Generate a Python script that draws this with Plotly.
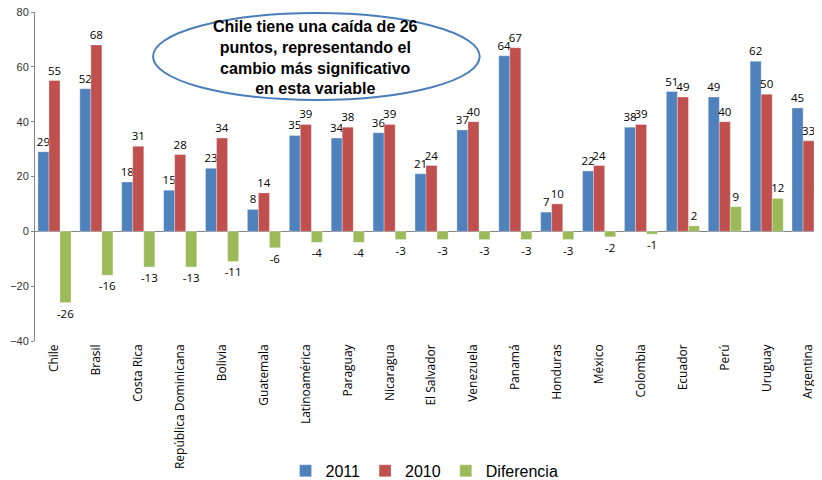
import plotly.graph_objects as go

countries = ["Chile", "Brasil", "Costa Rica", "República Dominicana", "Bolivia", "Guatemala",
             "Latinoamérica", "Paraguay", "Nicaragua", "El Salvador", "Venezuela", "Panamá",
             "Honduras", "México", "Colombia", "Ecuador", "Perú", "Uruguay", "Argentina"]
v2011 = [29, 52, 18, 15, 23, 8, 35, 34, 36, 21, 37, 64, 7, 22, 38, 51, 49, 62, 45]
v2010 = [55, 68, 31, 28, 34, 14, 39, 38, 39, 24, 40, 67, 10, 24, 39, 49, 40, 50, 33]
diferencia = [-26, -16, -13, -13, -11, -6, -4, -4, -3, -3, -3, -3, -3, -2, -1, 2, 9, 12, 12]

series = [("2011", v2011, "#4F81BD"), ("2010", v2010, "#C0504D"), ("Diferencia", diferencia, "#9BBB59")]

fig = go.Figure()
for name, vals, col in series:
    fig.add_trace(go.Bar(
        x=countries, y=vals, name=name,
        marker=dict(color=col, line=dict(color="rgba(255,255,255,0.6)", width=0.5)),
        text=[str(v) for v in vals], textposition="outside", constraintext="none",
        textfont=dict(family="Open Sans", size=11.5, color="#000000"),
        cliponaxis=False,
    ))

fig.add_shape(type="circle", xref="paper", yref="paper",
              x0=0.150, x1=0.565, y0=0.7325, y1=0.997,
              line=dict(color="#4A7EBB", width=2), fillcolor="white", layer="above")
fig.add_annotation(xref="paper", yref="paper", x=0.357, y=0.863,
                   text="<b>Chile tiene una caída de 26<br>puntos, representando el<br>cambio más significativo<br>en esta variable</b>",
                   showarrow=False, align="center", xanchor="center", yanchor="middle",
                   font=dict(family="Liberation Sans", size=16, color="#000000"))

# page body has an 8px margin: figure is sized/offset so the plot lands where the reference has it
fig.update_layout(
    width=814, height=472,
    margin=dict(l=27, r=0, t=4, b=139, autoexpand=False),
    paper_bgcolor="white", plot_bgcolor="white",
    barmode="group", bargap=0.21, bargroupgap=0,
    showlegend=True,
    legend=dict(orientation="h", x=0.495, xanchor="center", y=-0.395, yanchor="middle",
                font=dict(family="Liberation Sans", size=16, color="#000000"),
                itemwidth=30, tracegroupgap=0),
    xaxis=dict(range=[-0.465, 18.32], showgrid=False, showline=False, ticks="",
               tickangle=-90, tickfont=dict(family="Open Sans", size=12, color="#000000"),
               automargin=False, fixedrange=True),
    yaxis=dict(range=[-40, 80], dtick=20, showgrid=False, showline=True, linecolor="#868686",
               linewidth=1, ticks="outside", ticklen=3, tickcolor="#868686",
               zeroline=True, zerolinecolor="#868686", zerolinewidth=1, automargin=False,
               ticklabeloverflow="allow",
               tickfont=dict(family="Liberation Sans", size=11, color="#333333")),
)

fig.write_html("out.html")
